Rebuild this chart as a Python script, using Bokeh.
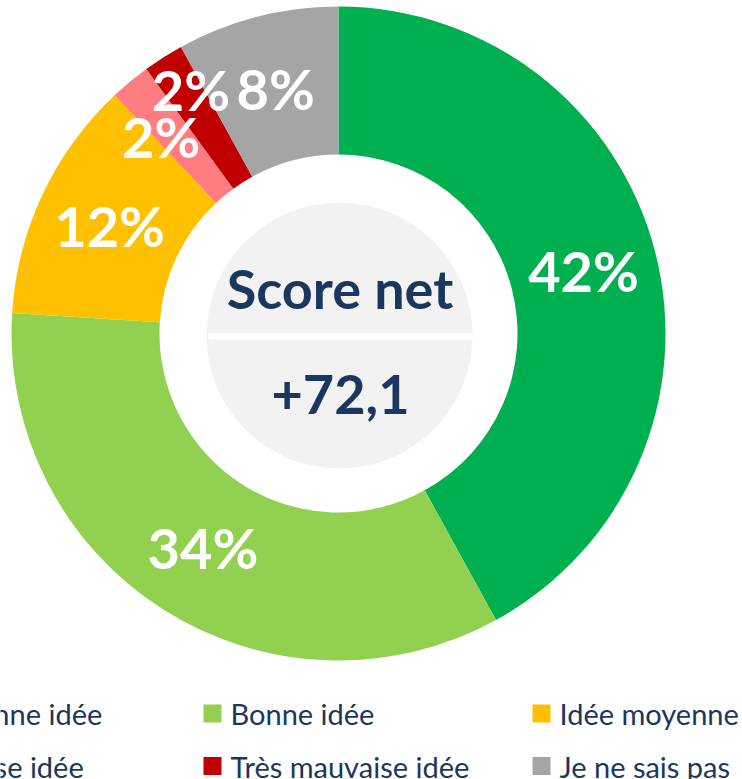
import math
from bokeh.plotting import figure
from bokeh.models import Range1d, ColumnDataSource
from bokeh.core.properties import value
from bokeh.embed import file_html
from bokeh.resources import INLINE

# ---- data ----
categories = ["Très bonne idée", "Bonne idée", "Idée moyenne",
              "Mauvaise idée", "Très mauvaise idée", "Je ne sais pas"]
shares = [42, 34, 12, 2, 2, 8]
colors = ["#00B050", "#92D050", "#FFC000", "#FF7C80", "#C00000", "#A5A5A5"]
score_title = "Score net"
score_value = "+72,1"

# ---- layout (picture pixels) ----
W, H = 742, 779
def wy(y):
    return H - y

CX, CY = 338, wy(333)
R_OUT, R_IN = 327, 179
LABEL_R = 253
label_dr = [0, 0, 0, 12, 32, 0]
label_dtheta = [0, 0, 0, -2.4, 1.2, 0]
LABEL_SIZE = 56
TEXT_COLOR = "#1B375E"
FONT = "Lato"

p = figure(width=W, height=H, x_range=Range1d(0, W), y_range=Range1d(0, H),
           output_backend="svg", toolbar_location=None, min_border=0)
p.axis.visible = False
p.grid.visible = False
p.outline_line_color = None
p.background_fill_color = "white"

total = float(sum(shares))
starts, ends, lx, ly, ltxt = [], [], [], [], []
cum = 0.0
for i, s in enumerate(shares):
    a0 = math.pi / 2 - 2 * math.pi * cum / total
    a1 = math.pi / 2 - 2 * math.pi * (cum + s) / total
    starts.append(a0)
    ends.append(a1)
    mid = math.pi / 2 - 2 * math.pi * (cum + s / 2) / total - math.radians(label_dtheta[i])
    r = LABEL_R + label_dr[i]
    lx.append(CX + r * math.cos(mid))
    ly.append(CY + r * math.sin(mid))
    ltxt.append(f"{s}%")
    cum += s

src = ColumnDataSource(dict(start=starts, end=ends, color=colors))
p.annular_wedge(x=CX, y=CY, inner_radius=R_IN, outer_radius=R_OUT,
                start_angle="start", end_angle="end", direction="clock",
                fill_color="color", line_color=None, source=src)

p.text(x=lx, y=ly, text=ltxt, text_align="center", text_baseline="middle",
       text_font=value(FONT), text_font_style="bold", text_font_size=f"{LABEL_SIZE}px",
       text_color="white")

# centre badge
p.circle(x=339, y=wy(335), radius=133, fill_color="#F2F2F2", line_color=None)
p.rect(x=340, y=wy(336), width=264, height=6, fill_color="white", line_color=None)
p.text(x=[339.5], y=[wy(288)], text=[score_title], text_align="center", text_baseline="middle",
       text_font=value(FONT), text_font_style="bold", text_font_size="54px", text_color=TEXT_COLOR)
p.text(x=[340], y=[wy(394)], text=[score_value], text_align="center", text_baseline="middle",
       text_font=value(FONT), text_font_style="bold", text_font_size="54px", text_color=TEXT_COLOR)

# legend
sq_x, sq_y, tx, ty = [], [], [], []
for i in range(len(categories)):
    col, row = i % 3, i // 3
    x0 = 212 + (col - 1) * 329
    y0 = 713 + row * 52.5
    sq_x.append(x0)
    sq_y.append(wy(y0))
    tx.append(x0 + 18)
    ty.append(wy(y0))
p.rect(x=sq_x, y=sq_y, width=18, height=18, fill_color=colors, line_color=None)
p.text(x=tx, y=ty, text=categories, text_align="left", text_baseline="middle",
       text_font=value(FONT), text_font_size="29px", text_color=TEXT_COLOR)

open("out.html", "w").write(file_html(p, INLINE))
